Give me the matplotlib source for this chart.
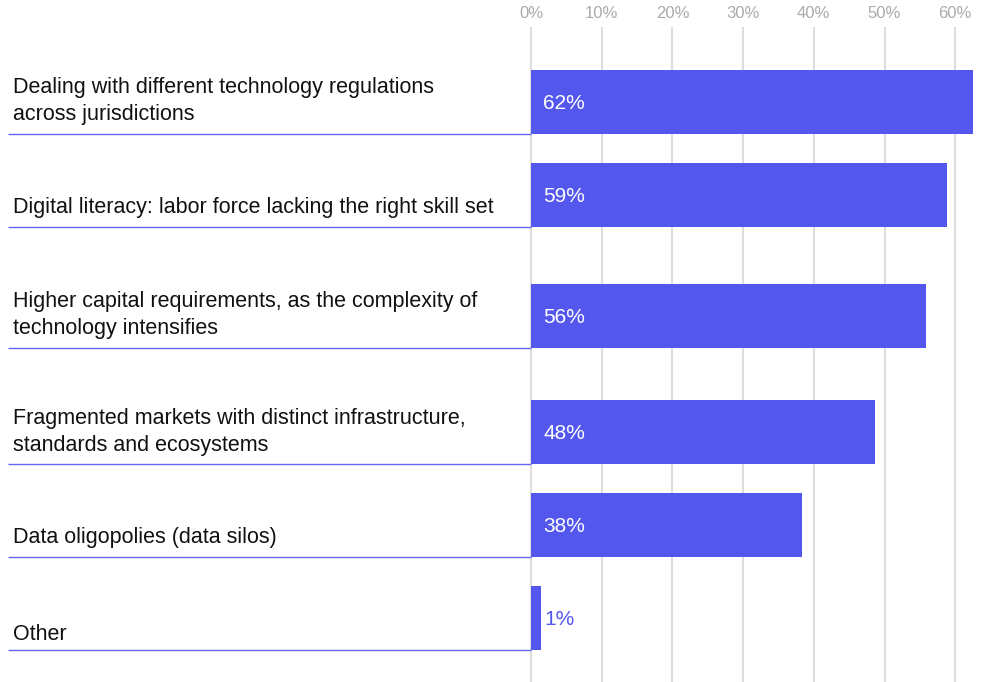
import matplotlib
matplotlib.use("Agg")
import matplotlib.pyplot as plt

plt.rcParams["font.family"] = ["Liberation Sans", "DejaVu Sans"]

categories = [
    "Dealing with different technology regulations\nacross jurisdictions",
    "Digital literacy: labor force lacking the right skill set",
    "Higher capital requirements, as the complexity of\ntechnology intensifies",
    "Fragmented markets with distinct infrastructure,\nstandards and ecosystems",
    "Data oligopolies (data silos)",
    "Other",
]
values = [62.5, 58.8, 55.9, 48.6, 38.4, 1.4]
value_labels = ["62%", "59%", "56%", "48%", "38%", "1%"]
tick_values = [0, 10, 20, 30, 40, 50, 60]
tick_labels = [f"{t}%" for t in tick_values]

# layout (pixel rows, uneven like the original)
row_centers = [102, 195, 316, 432, 525, 618]
label_lift = [14, 14, 14, 13, 14, 10]
bar_h = 64
BAR = "#5457EE"
LINE = "#6468F0"

W, H = 988, 682
px_per_pct = 7.07
x0 = 531
top = 27

fig = plt.figure(figsize=(W / 100, H / 100), dpi=100)
ax = fig.add_axes([0, 0, 1, (H - top) / H])
ax.set_xlim(-x0 / px_per_pct, (W - x0) / px_per_pct)
ax.set_ylim(H, top)

ax.barh(row_centers, values, height=bar_h, color=BAR, zorder=3)

for yc, v, lab, cat, lift in zip(row_centers, values, value_labels, categories, label_lift):
    if v > 5:
        ax.text(12 / px_per_pct, yc + 2, lab, color="white", fontsize=15,
                va="center", ha="left", zorder=4)
    else:
        ax.text(v + 0.55, yc + 2, lab, color=BAR, fontsize=15,
                va="center", ha="left", zorder=4)
    base = yc + bar_h / 2
    ax.plot([(8 - x0) / px_per_pct, 0], [base, base], color=LINE, lw=1.0,
            zorder=2, solid_capstyle="butt")
    ax.text((13 - x0) / px_per_pct, base - lift, cat, fontsize=15.5, color="#111111",
            ha="left", va="baseline", linespacing=1.4)

ax.set_xticks(tick_values)
ax.set_xticklabels(tick_labels)
ax.xaxis.tick_top()
ax.tick_params(axis="x", length=0, pad=4, labelsize=12, labelcolor="#AAAAAA")
ax.set_yticks([])
ax.grid(axis="x", color="#DDDDDD", lw=1.5, zorder=0)
for s in ax.spines.values():
    s.set_visible(False)

fig.savefig("out.png", dpi=100)
